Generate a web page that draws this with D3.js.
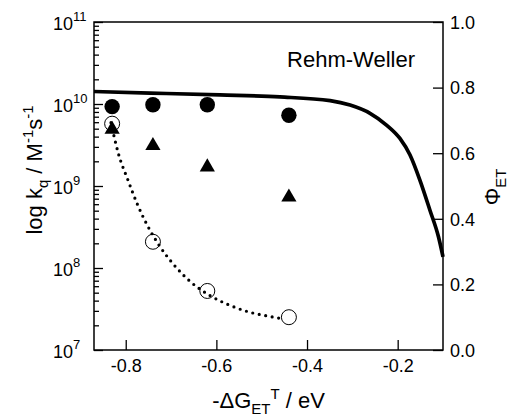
<!DOCTYPE html>
<html>
<head>
<meta charset="utf-8">
<script src="https://cdn.jsdelivr.net/npm/d3@7"></script>
<style>
  body { margin: 0; background: #fff; }
  text { font-family: Arial, "Liberation Sans", sans-serif; fill: #000; }
</style>
</head>
<body>
<script>
// measured points, x = -dG_ET^T (eV)
const dgX = [-0.83, -0.74, -0.62, -0.44];
const kqFilled = [9.3e9, 9.8e9, 9.8e9, 7.3e9];     // filled circles, left axis
const kqTriangle = [4.9e9, 3.1e9, 1.7e9, 7.3e8];   // triangles, left axis
const phiOpen = [0.69, 0.33, 0.18, 0.10];          // open circles, right axis

// Rehm-Weller curve (left axis)
const rwX = [-0.87, -0.746, -0.592, -0.46, -0.349, -0.305, -0.261, -0.224, -0.195, -0.173, -0.151, -0.129, -0.110, -0.100];
const rwK = [1.42e10, 1.36e10, 1.29e10, 1.22e10, 1.10e10, 9.7e9, 7.7e9, 5.5e9, 3.8e9, 2.4e9, 1.18e9, 5.1e8, 2.4e8, 1.37e8];

// dotted fit through the open circles (right axis)
const fitX = [-0.8325, -0.8164, -0.7956, -0.7736, -0.753, -0.7281, -0.6963, -0.6553, -0.614, -0.5699, -0.5258, -0.4817, -0.4536];
const fitPhi = [0.693, 0.60, 0.52, 0.442, 0.382, 0.323, 0.264, 0.206, 0.166, 0.136, 0.115, 0.102, 0.095];

const xTicks = [-0.8, -0.6, -0.4, -0.2];
const leftExp = [7, 8, 9, 10, 11];
const rightTicks = [0, 0.2, 0.4, 0.6, 0.8, 1.0];

const width = 516;
const height = 416;
const margin = { top: 22, right: 73, bottom: 66, left: 94 };

const svg = d3.select('body')
    .append('svg')
    .attr('width', width)
    .attr('height', height);

const x = d3.scaleLinear().domain([-0.87, -0.1]).range([margin.left, width - margin.right]);
const yL = d3.scaleLog().domain([1e7, 1e11]).range([height - margin.bottom, margin.top]);
const yR = d3.scaleLinear().domain([0, 1]).range([height - margin.bottom, margin.top]);

const x0 = margin.left, x1 = width - margin.right;
const y0 = height - margin.bottom, y1 = margin.top;

// minor log ticks
const minor = [];
leftExp.slice(0, -1).forEach(e => {
    for (let m = 2; m <= 9; m++) minor.push(m * Math.pow(10, e));
});

svg.append('g')
    .attr('transform', `translate(${x0},0)`)
    .call(d3.axisLeft(yL).tickValues(minor).tickSize(-5).tickSizeOuter(0).tickFormat(''))
    .call(g => g.select('.domain').remove());

svg.append('g')
    .attr('transform', `translate(${x0},0)`)
    .call(d3.axisLeft(yL).tickValues(leftExp.map(e => Math.pow(10, e))).tickSize(-9).tickSizeOuter(0).tickFormat(''))
    .call(g => g.select('.domain').remove());

svg.append('g')
    .attr('transform', `translate(0,${y0})`)
    .call(d3.axisBottom(x).tickValues(xTicks).tickSize(-10).tickSizeOuter(0).tickFormat(d => d.toFixed(1)))
    .call(g => g.select('.domain').remove())
    .call(g => g.selectAll('text').attr('dy', null).attr('y', 22).style('font-size', '18px'));

svg.append('g')
    .attr('transform', `translate(${x1},0)`)
    .call(d3.axisRight(yR).tickValues(rightTicks).tickSize(-10).tickSizeOuter(0).tickFormat(d => d.toFixed(1)))
    .call(g => g.select('.domain').remove())
    .call(g => g.selectAll('text').attr('x', 7).attr('dy', '0.35em').style('font-size', '18px'));

svg.selectAll('.tick line').attr('stroke', '#000').attr('stroke-width', 1.3);
svg.selectAll('.tick text').attr('fill', '#000').style('font-family', 'Arial, "Liberation Sans", sans-serif');

// left tick labels 10^n
const lt = svg.append('g').selectAll('text')
    .data(leftExp)
    .enter()
    .append('text')
    .attr('x', 53)
    .attr('y', d => yL(Math.pow(10, d)) + 8)
    .style('font-size', '18px');
lt.append('tspan').text('10');
lt.append('tspan').attr('dy', -9).style('font-size', '13px').text(d => d);

// frame
svg.append('rect')
    .attr('x', x0).attr('y', y1)
    .attr('width', x1 - x0).attr('height', y0 - y1)
    .attr('fill', 'none').attr('stroke', '#000').attr('stroke-width', 1.5);

const plot = svg.append('g');

// Rehm-Weller line
plot.append('path')
    .datum(rwX.map((v, i) => [v, rwK[i]]))
    .attr('fill', 'none')
    .attr('stroke', '#000')
    .attr('stroke-width', 3.7)
    .attr('d', d3.line().x(d => x(d[0])).y(d => yL(d[1])).curve(d3.curveMonotoneX));

// dotted fit
plot.append('path')
    .datum(fitX.map((v, i) => [v, fitPhi[i]]))
    .attr('fill', 'none')
    .attr('stroke', '#000')
    .attr('stroke-width', 3.2)
    .attr('stroke-linecap', 'round')
    .attr('stroke-dasharray', '0 6.6')
    .attr('d', d3.line().x(d => x(d[0])).y(d => yR(d[1])).curve(d3.curveMonotoneX));

// open circles
plot.selectAll('.open')
    .data(dgX)
    .enter()
    .append('circle')
    .attr('class', 'open')
    .attr('cx', d => x(d))
    .attr('cy', (d, i) => yR(phiOpen[i]))
    .attr('r', 7.5)
    .attr('fill', 'none')
    .attr('stroke', '#000')
    .attr('stroke-width', 1);

// triangles
plot.selectAll('.tri')
    .data(dgX)
    .enter()
    .append('path')
    .attr('class', 'tri')
    .attr('transform', (d, i) => `translate(${x(d)},${yL(kqTriangle[i])})`)
    .attr('d', d3.symbol(d3.symbolTriangle, 100))
    .attr('fill', '#000');

// filled circles
plot.selectAll('.filled')
    .data(dgX)
    .enter()
    .append('circle')
    .attr('class', 'filled')
    .attr('cx', d => x(d))
    .attr('cy', (d, i) => yL(kqFilled[i]))
    .attr('r', 7.7)
    .attr('fill', '#000');

// title
svg.append('text')
    .attr('x', 415)
    .attr('y', 67)
    .attr('text-anchor', 'end')
    .style('font-size', '22px')
    .text('Rehm-Weller');

// x label
const xl = svg.append('text')
    .attr('x', (x0 + x1) / 2)
    .attr('y', 408)
    .attr('text-anchor', 'middle')
    .style('font-size', '22px');
xl.append('tspan').text('-\u0394G');
xl.append('tspan').attr('dy', 6).style('font-size', '15px').text('ET');
xl.append('tspan').attr('dy', -15).style('font-size', '15px').text('T');
xl.append('tspan').attr('dy', 9).text(' / eV');

// left y label
const yl = svg.append('text')
    .attr('transform', 'translate(42,170) rotate(-90)')
    .attr('text-anchor', 'middle')
    .style('font-size', '22px');
yl.append('tspan').text('log k');
yl.append('tspan').attr('dy', 6).style('font-size', '15px').text('q');
yl.append('tspan').attr('dy', -6).text(' / M');
yl.append('tspan').attr('dy', -9).style('font-size', '15px').text('-1');
yl.append('tspan').attr('dy', 9).text('s');
yl.append('tspan').attr('dy', -9).style('font-size', '15px').text('-1');

// right y label
const yr = svg.append('text')
    .attr('transform', 'translate(500,187) rotate(-90)')
    .attr('text-anchor', 'middle')
    .style('font-size', '22px');
yr.append('tspan').text('\u03A6');
yr.append('tspan').attr('dy', 6).style('font-size', '15px').text('ET');
</script>
</body>
</html>
